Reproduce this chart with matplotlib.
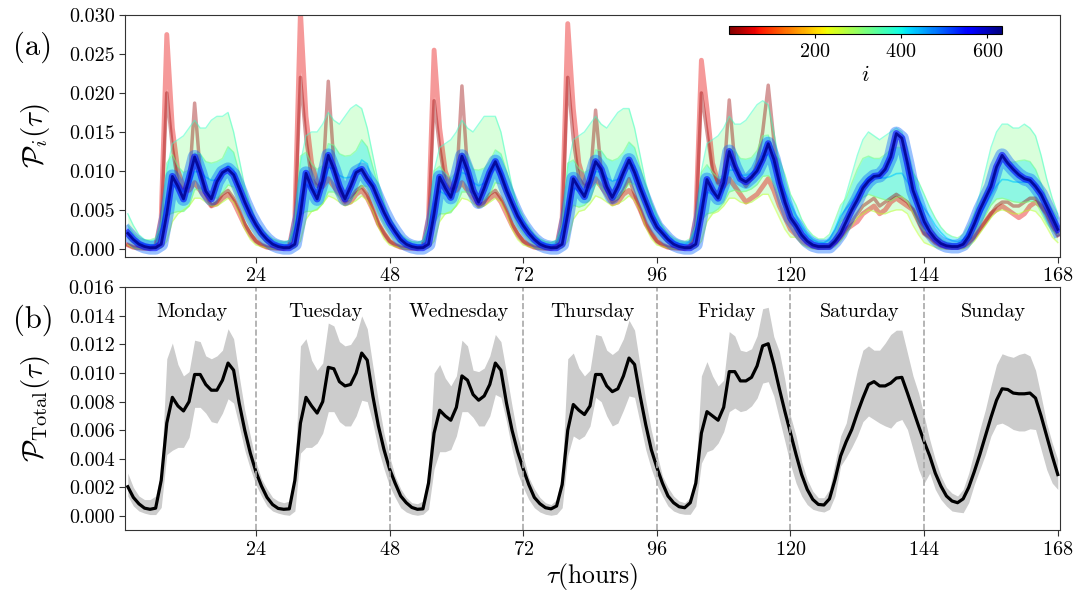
import numpy as np
import matplotlib
matplotlib.use("Agg")
import matplotlib.pyplot as plt
from matplotlib.colors import Normalize
from matplotlib.cm import ScalarMappable
from matplotlib.ticker import FormatStrFormatter

plt.rcParams["font.family"] = "serif"
plt.rcParams["font.serif"] = ["cmr10"]
plt.rcParams["mathtext.fontset"] = "cm"
plt.rcParams["axes.formatter.use_mathtext"] = True

days = ["Monday", "Tuesday", "Wednesday", "Thursday", "Friday", "Saturday", "Sunday"]
day_edges = [24, 48, 72, 96, 120, 144, 168]
hours = np.arange(1, 169)

# all values in units of 1e-3, one row per day (hour 1..24 of that day)
total_mean = [
    [2.05, 1.3, 0.85, 0.55, 0.47, 0.55, 2.5, 6.5, 8.3, 7.7, 7.35, 8.0, 9.9, 9.9, 9.2, 8.8, 8.8, 9.5, 10.7, 10.2, 7.9, 6.0, 4.4, 3.1],
    [2.1, 1.3, 0.8, 0.53, 0.47, 0.5, 2.5, 6.5, 8.3, 7.7, 7.2, 8.0, 10.4, 10.3, 9.4, 9.1, 9.2, 10.0, 11.4, 10.9, 8.4, 6.3, 4.65, 3.3],
    [2.3, 1.4, 0.93, 0.6, 0.47, 0.5, 2.3, 5.8, 7.4, 7.0, 6.7, 7.6, 9.8, 9.5, 8.5, 8.1, 8.4, 9.2, 10.7, 10.2, 7.9, 6.0, 4.5, 3.3],
    [2.2, 1.3, 0.86, 0.58, 0.5, 0.7, 2.2, 6.0, 7.8, 7.4, 7.1, 7.7, 9.9, 9.9, 9.1, 8.7, 8.9, 9.8, 11.05, 10.6, 8.4, 6.4, 4.65, 3.4],
    [2.3, 1.4, 0.93, 0.65, 0.58, 0.93, 2.3, 5.8, 7.3, 7.0, 6.7, 7.6, 10.1, 10.1, 9.45, 9.45, 9.7, 10.5, 11.9, 12.05, 10.6, 8.9, 7.3, 5.8],
    [4.3, 2.9, 1.86, 1.16, 0.81, 0.77, 1.2, 2.56, 4.2, 5.2, 6.05, 7.2, 8.25, 9.2, 9.4, 9.1, 9.1, 9.3, 9.65, 9.7, 8.6, 7.45, 6.3, 5.2],
    [4.2, 3.0, 2.1, 1.4, 1.05, 0.93, 1.2, 2.0, 3.1, 4.3, 5.6, 6.9, 8.1, 8.9, 8.85, 8.6, 8.55, 8.55, 8.6, 8.25, 7.0, 5.6, 4.2, 2.9],
]
total_hi = [
    [3.0, 2.0, 1.4, 1.15, 1.15, 1.4, 3.0, 11.0, 12.1, 10.6, 9.8, 10.1, 12.3, 12.2, 11.2, 11.0, 11.2, 11.6, 13.1, 12.4, 9.8, 7.4, 5.6, 3.8],
    [2.6, 1.9, 1.3, 1.05, 0.93, 1.05, 3.0, 11.9, 12.4, 10.9, 10.2, 10.7, 13.5, 13.3, 12.2, 11.9, 12.0, 12.6, 14.0, 13.1, 10.5, 8.0, 5.8, 4.2],
    [2.8, 1.9, 1.3, 0.93, 0.86, 1.05, 3.0, 10.0, 10.6, 9.65, 9.1, 9.8, 12.3, 11.9, 10.2, 10.1, 10.35, 11.2, 12.7, 12.2, 10.0, 7.7, 5.6, 4.2],
    [2.7, 1.9, 1.3, 0.93, 0.8, 1.15, 3.0, 11.0, 11.4, 10.35, 9.8, 10.2, 12.7, 12.6, 11.6, 11.3, 11.6, 12.4, 13.7, 13.0, 10.5, 8.1, 6.0, 4.4],
    [2.8, 2.0, 1.4, 1.05, 0.93, 1.3, 3.0, 9.8, 10.8, 9.8, 9.1, 9.5, 12.9, 12.6, 11.6, 11.5, 11.7, 12.6, 14.5, 14.6, 12.55, 11.5, 9.5, 7.0],
    [5.6, 3.8, 2.56, 1.74, 1.28, 1.28, 1.86, 3.7, 5.6, 6.5, 8.4, 10.2, 11.6, 11.9, 11.6, 11.6, 12.1, 12.7, 13.0, 13.0, 11.4, 9.8, 8.6, 7.0],
    [5.35, 3.95, 2.8, 2.0, 1.6, 1.4, 1.86, 3.0, 4.5, 6.05, 7.45, 9.1, 10.6, 11.35, 11.2, 11.1, 11.3, 11.4, 11.2, 10.2, 8.4, 6.5, 5.1, 3.95],
]
total_lo = [
    [1.4, 0.7, 0.35, 0.2, 0.1, 0.1, 0.6, 4.3, 4.6, 4.8, 4.8, 5.5, 7.6, 7.6, 7.2, 6.6, 6.5, 7.2, 8.2, 7.9, 6.3, 4.6, 3.3, 2.2],
    [1.4, 0.7, 0.35, 0.2, 0.1, 0.05, 0.35, 4.4, 4.8, 4.8, 5.1, 5.8, 7.3, 7.3, 6.6, 6.3, 6.3, 7.0, 8.1, 8.0, 6.5, 4.65, 3.3, 2.1],
    [1.3, 0.58, 0.28, 0.12, 0.05, 0.12, 0.47, 3.3, 4.5, 4.5, 4.65, 5.6, 7.3, 7.3, 6.9, 6.3, 6.3, 7.0, 8.5, 8.3, 6.6, 4.65, 3.0, 2.0],
    [1.16, 0.58, 0.28, 0.12, 0.05, 0.12, 0.58, 4.2, 5.6, 5.35, 5.6, 6.3, 8.3, 8.0, 7.0, 6.3, 6.5, 7.4, 8.4, 8.3, 6.5, 4.65, 3.3, 2.2],
    [1.4, 0.7, 0.35, 0.19, 0.12, 0.12, 0.7, 3.7, 4.5, 4.65, 5.1, 5.9, 7.3, 7.55, 7.3, 7.4, 7.7, 8.25, 9.3, 9.4, 8.4, 6.8, 5.2, 3.6],
    [2.3, 1.4, 0.8, 0.47, 0.35, 0.28, 0.47, 1.4, 3.5, 4.1, 4.8, 5.6, 6.6, 7.0, 6.75, 6.5, 6.3, 6.15, 6.6, 6.75, 6.05, 4.65, 3.25, 2.3],
    [3.0, 1.86, 1.16, 0.7, 0.35, 0.28, 0.23, 0.93, 2.2, 3.25, 4.3, 5.6, 6.4, 6.5, 6.3, 6.05, 5.95, 5.95, 6.1, 6.05, 4.65, 3.25, 2.3, 1.86],
]

# panel (a): curves
core_blue = [
    [2.0, 1.2, 0.6, 0.3, 0.15, 0.15, 0.6, 4.5, 9.3, 8.0, 6.4, 9.0, 11.8, 9.8, 7.4, 6.4, 8.6, 9.8, 10.2, 9.5, 7.8, 6.0, 4.4, 3.1],
    [2.0, 1.2, 0.6, 0.3, 0.15, 0.15, 0.6, 4.5, 9.7, 7.8, 6.4, 8.8, 12.0, 10.2, 8.0, 6.4, 8.0, 9.8, 10.2, 9.0, 8.0, 6.3, 4.7, 3.3],
    [2.2, 1.2, 0.6, 0.3, 0.15, 0.15, 0.6, 4.5, 9.2, 7.8, 6.6, 9.0, 11.9, 10.0, 7.5, 6.0, 7.8, 9.8, 11.2, 9.5, 7.5, 5.8, 4.2, 3.0],
    [2.0, 1.2, 0.6, 0.3, 0.15, 0.15, 0.6, 4.5, 9.0, 7.8, 6.7, 8.8, 11.2, 10.2, 8.0, 6.6, 8.0, 9.8, 11.4, 9.8, 7.8, 6.0, 4.2, 2.8],
    [2.0, 1.2, 0.6, 0.3, 0.15, 0.15, 0.6, 4.5, 8.9, 7.5, 6.5, 8.5, 12.5, 10.5, 9.0, 8.6, 9.2, 10.0, 11.5, 13.5, 11.5, 8.5, 6.0, 4.0],
    [3.0, 1.8, 1.0, 0.5, 0.3, 0.3, 0.3, 1.0, 2.0, 3.5, 5.0, 6.3, 7.8, 8.7, 9.3, 9.4, 10.2, 11.8, 14.8, 14.2, 11.0, 7.5, 5.5, 3.5],
    [2.2, 1.3, 0.7, 0.4, 0.3, 0.3, 0.6, 1.6, 3.2, 5.0, 6.5, 8.0, 10.5, 12.0, 11.0, 10.2, 9.5, 9.0, 8.8, 8.0, 7.0, 5.5, 4.0, 2.5],
]
spike_red = [
    [0.5, 0.2, 0.1, 0.05, 0.05, 0.3, 4.0, 27.5, 15.5, 10.0, 8.0, 7.5, 8.5, 7.5, 6.5, 5.5, 5.8, 6.5, 7.0, 6.0, 4.5, 3.0, 1.8, 1.0],
    [0.5, 0.2, 0.1, 0.05, 0.05, 0.3, 4.0, 30.5, 17.0, 11.0, 8.5, 8.0, 9.0, 8.0, 7.0, 5.8, 6.0, 7.0, 7.5, 6.5, 5.0, 3.2, 2.0, 1.0],
    [0.5, 0.2, 0.1, 0.05, 0.05, 0.3, 4.0, 25.5, 15.5, 10.0, 8.0, 7.5, 8.5, 7.5, 6.5, 5.5, 5.8, 6.5, 7.0, 6.0, 4.5, 3.0, 1.8, 1.0],
    [0.5, 0.2, 0.1, 0.05, 0.05, 0.3, 4.0, 28.9, 18.0, 11.0, 8.5, 8.0, 9.0, 8.0, 7.0, 5.8, 6.0, 7.0, 7.5, 6.5, 5.0, 3.2, 2.0, 1.0],
    [0.5, 0.2, 0.1, 0.05, 0.05, 0.3, 4.0, 24.2, 18.0, 11.0, 8.5, 8.0, 9.0, 8.0, 7.0, 6.0, 6.5, 7.0, 8.0, 9.0, 7.5, 5.5, 4.0, 2.5],
    [1.8, 1.0, 0.6, 0.3, 0.2, 0.2, 0.3, 0.8, 1.5, 2.5, 3.0, 3.5, 4.5, 5.0, 5.5, 4.5, 5.0, 6.0, 6.5, 6.0, 5.5, 5.0, 3.5, 2.0],
    [1.5, 0.8, 0.4, 0.2, 0.2, 0.2, 0.3, 0.8, 1.5, 2.5, 3.5, 4.5, 5.0, 5.5, 5.0, 4.5, 4.0, 4.5, 5.5, 6.0, 5.5, 4.5, 3.0, 1.8],
]
spike_darkred = [
    [0.5, 0.2, 0.1, 0.05, 0.05, 0.3, 3.0, 20.0, 13.0, 8.5, 7.5, 8.0, 18.7, 10.0, 7.0, 5.5, 6.0, 7.0, 7.5, 6.5, 5.0, 3.2, 2.0, 1.0],
    [0.5, 0.2, 0.1, 0.05, 0.05, 0.3, 3.0, 22.0, 14.0, 9.0, 8.0, 8.5, 21.5, 11.0, 7.5, 6.0, 6.5, 7.5, 8.0, 7.0, 5.0, 3.2, 2.0, 1.0],
    [0.5, 0.2, 0.1, 0.05, 0.05, 0.3, 3.0, 19.0, 13.0, 8.5, 7.5, 8.0, 20.9, 10.0, 7.0, 5.5, 6.0, 7.0, 7.5, 6.5, 5.0, 3.2, 2.0, 1.0],
    [0.5, 0.2, 0.1, 0.05, 0.05, 0.3, 3.0, 22.0, 14.0, 9.0, 8.0, 8.5, 17.8, 10.0, 7.5, 6.0, 6.5, 7.5, 9.0, 7.0, 5.0, 3.2, 2.0, 1.0],
    [0.5, 0.2, 0.1, 0.05, 0.05, 0.3, 3.0, 20.0, 15.0, 10.0, 8.5, 9.0, 19.1, 11.0, 9.0, 8.0, 9.0, 11.0, 15.0, 21.0, 14.0, 9.0, 6.0, 3.5],
    [2.5, 1.5, 0.8, 0.4, 0.2, 0.2, 0.3, 0.8, 1.5, 2.5, 3.5, 4.5, 5.5, 6.0, 6.5, 5.5, 6.0, 6.5, 7.0, 6.5, 6.0, 5.0, 3.5, 2.0],
    [1.5, 0.8, 0.4, 0.2, 0.2, 0.2, 0.3, 0.8, 1.5, 2.5, 3.5, 4.5, 5.5, 6.0, 6.0, 5.5, 5.5, 6.0, 6.5, 6.5, 5.5, 4.5, 3.0, 1.8],
]
cloud_hi = [
    [4.5, 3.0, 1.8, 1.2, 1.0, 1.2, 3.5, 10.0, 13.5, 14.0, 14.5, 15.5, 16.5, 15.5, 15.5, 16.5, 17.0, 17.0, 17.5, 15.0, 11.5, 8.0, 5.5, 3.5],
    [2.8, 1.8, 1.2, 0.9, 0.8, 1.0, 3.5, 11.0, 14.5, 15.0, 15.0, 16.0, 17.5, 16.5, 16.0, 17.0, 18.0, 18.5, 18.0, 15.5, 12.0, 8.5, 6.0, 4.0],
    [3.0, 1.8, 1.2, 0.9, 0.8, 1.0, 3.0, 10.0, 13.0, 13.5, 14.0, 15.0, 16.5, 15.5, 15.0, 16.0, 17.0, 17.0, 17.0, 15.0, 11.5, 8.0, 5.5, 3.5],
    [3.0, 1.8, 1.2, 0.9, 0.8, 1.0, 3.0, 10.5, 14.0, 14.5, 15.0, 16.0, 17.0, 16.0, 15.5, 16.5, 17.5, 18.0, 18.0, 15.5, 12.0, 8.5, 6.0, 4.0],
    [3.0, 1.8, 1.2, 0.9, 0.8, 1.0, 3.0, 10.0, 13.5, 14.0, 14.5, 15.5, 17.0, 16.0, 16.0, 16.5, 17.5, 18.5, 19.0, 18.5, 15.0, 11.0, 8.0, 5.5],
    [4.0, 2.8, 1.8, 1.2, 0.9, 0.8, 1.2, 2.5, 4.5, 7.0, 9.5, 12.0, 14.0, 15.0, 14.5, 14.0, 14.5, 15.0, 15.5, 15.0, 13.0, 10.0, 7.0, 4.5],
    [3.0, 2.0, 1.3, 0.9, 0.7, 0.7, 1.2, 2.5, 4.5, 7.0, 10.0, 13.0, 15.0, 16.0, 16.0, 15.5, 15.5, 16.0, 15.5, 14.5, 12.0, 9.0, 6.5, 4.5],
]
cloud_lo = [
    [0.5, 0.1, 0.0, 0.0, 0.0, 0.0, 0.1, 1.0, 3.5, 4.5, 5.0, 5.5, 6.5, 6.5, 6.0, 5.5, 5.5, 6.0, 6.5, 6.0, 4.5, 2.5, 1.2, 0.5],
    [0.3, 0.1, 0.0, 0.0, 0.0, 0.0, 0.1, 1.0, 3.8, 4.8, 5.0, 5.8, 6.8, 6.5, 6.0, 5.5, 5.8, 6.2, 6.8, 6.2, 4.8, 2.8, 1.3, 0.5],
    [0.3, 0.1, 0.0, 0.0, 0.0, 0.0, 0.1, 1.0, 3.5, 4.5, 4.8, 5.5, 6.5, 6.3, 5.8, 5.3, 5.5, 6.0, 6.5, 6.0, 4.5, 2.5, 1.2, 0.5],
    [0.3, 0.1, 0.0, 0.0, 0.0, 0.0, 0.1, 1.0, 3.8, 4.8, 5.0, 5.8, 6.8, 6.5, 6.0, 5.5, 5.8, 6.2, 6.8, 6.2, 4.8, 2.8, 1.3, 0.5],
    [0.3, 0.1, 0.0, 0.0, 0.0, 0.0, 0.1, 1.0, 3.5, 4.5, 4.8, 5.5, 6.5, 6.5, 6.0, 5.8, 6.0, 6.5, 7.0, 7.0, 5.5, 4.0, 2.5, 1.5],
    [1.5, 0.6, 0.2, 0.0, 0.0, 0.0, 0.0, 0.3, 1.0, 2.0, 3.0, 4.0, 4.5, 5.0, 4.8, 4.5, 4.5, 4.8, 5.0, 5.0, 4.5, 3.0, 1.8, 0.8],
    [0.5, 0.2, 0.0, 0.0, 0.0, 0.0, 0.0, 0.3, 1.0, 2.0, 3.0, 4.0, 4.8, 5.0, 4.8, 4.5, 4.5, 4.8, 5.0, 4.8, 4.0, 2.8, 1.5, 0.8],
]


def week(rows):
    return np.array(rows, dtype=float).ravel() * 1e-3


cmap = plt.get_cmap("jet_r")
norm = Normalize(vmin=1, vmax=633)

fig = plt.figure(figsize=(10.89, 5.91), dpi=100)
ax_a = fig.add_axes([0.1148, 0.5657, 0.8586, 0.4089])
ax_b = fig.add_axes([0.1148, 0.1027, 0.8586, 0.4112])

# ---- panel (a)
# low-index stations first, the cloud washes over them
ax_a.plot(hours, week(spike_red), color=cmap(norm(60)), lw=3.5, alpha=0.4)
ax_a.plot(hours, week(spike_darkred), color=cmap(norm(15)), lw=2.5, alpha=0.4)

lo, hi = week(cloud_lo), week(cloud_hi)
ax_a.fill_between(hours, lo, hi, color=cmap(norm(320)), alpha=0.28, lw=0)
ax_a.fill_between(hours, week(total_lo), week(total_hi), color=cmap(norm(410)), alpha=0.35, lw=0)
ax_a.plot(hours, hi, color=cmap(norm(370)), lw=1, alpha=0.5)
ax_a.plot(hours, lo, color=cmap(norm(260)), lw=1, alpha=0.5)
ax_a.plot(hours, week(total_hi), color=cmap(norm(330)), lw=1, alpha=0.55)
ax_a.plot(hours, week(total_lo), color=cmap(norm(300)), lw=1, alpha=0.55)
ax_a.plot(hours, week(total_mean), color=cmap(norm(430)), lw=1.2, alpha=0.6)

core = week(core_blue)
ax_a.plot(hours, core, color=cmap(norm(490)), lw=10, alpha=0.4)
ax_a.plot(hours, core, color=cmap(norm(560)), lw=5, alpha=0.6)
ax_a.plot(hours, core, color=cmap(norm(625)), lw=2, alpha=0.85)

ax_a.set_ylim(-0.001, 0.030)
ax_a.set_yticks(np.arange(0, 0.0301, 0.005))
ax_a.set_ylabel(r"$\mathcal{P}_i(\tau)$", fontsize=21)

# ---- panel (b)
ax_b.fill_between(hours, week(total_lo), week(total_hi), color="#cccccc", lw=0)
ax_b.plot(hours, week(total_mean), color="black", lw=2.3)
for d in day_edges[:-1]:
    ax_b.axvline(d, color="#a8a8a8", ls="--", lw=1.2)
for k, name in enumerate(days):
    ax_b.text(24 * k + 12.5, 0.0143, name, ha="center", va="center", fontsize=14.5)
ax_b.set_ylim(-0.001, 0.016)
ax_b.set_yticks(np.arange(0, 0.0161, 0.002))
ax_b.set_ylabel(r"$\mathcal{P}_{\rm Total}(\tau)$", fontsize=21)
ax_b.set_xlabel(r"$\tau$(hours)", fontsize=18.5, labelpad=2)

for ax in (ax_a, ax_b):
    ax.set_xlim(0.5, 168.4)
    ax.set_xticks(day_edges)
    ax.yaxis.set_major_formatter(FormatStrFormatter("%.3f"))
    ax.tick_params(labelsize=14.5, length=4, color="#333333")
    ax.yaxis.set_label_coords(-0.078, 0.5)
    for s in ax.spines.values():
        s.set_color("#333333")

fig.text(0.012, 0.920, "(a)", fontsize=22, va="center")
fig.text(0.012, 0.4585, "(b)", fontsize=22, va="center")

# colour bar for the station index
cax = fig.add_axes([0.6694, 0.943, 0.2504, 0.0135])
cb = fig.colorbar(ScalarMappable(norm=norm, cmap=cmap), cax=cax, orientation="horizontal", ticks=[200, 400, 600])
cb.outline.set_linewidth(0.8)
cax.tick_params(labelsize=14.5, length=3)
cax.set_xlabel(r"$i$", fontsize=16, labelpad=3)

fig.savefig("out.png", dpi=100)
